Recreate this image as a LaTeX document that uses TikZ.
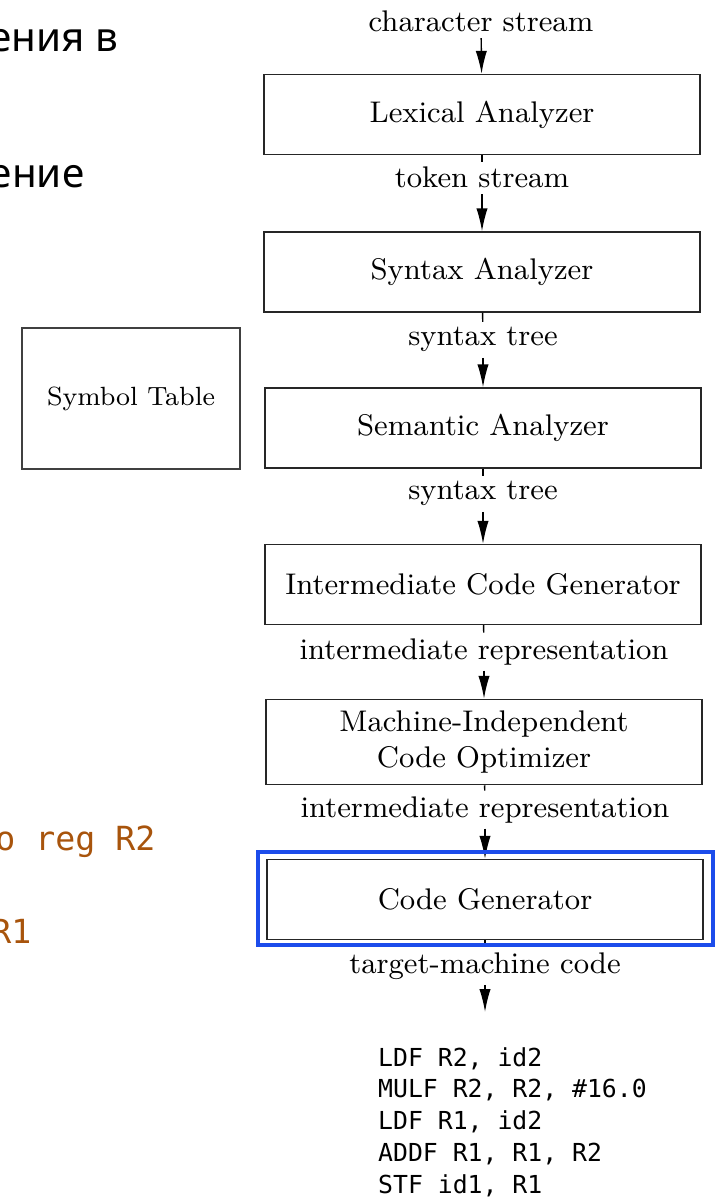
\documentclass[tikz,border=0pt]{standalone}
\usepackage{fontspec}
\newfontfamily\codefont{DejaVu Sans Mono}
\newfontfamily\rufont{Noto Sans}
\usetikzlibrary{arrows.meta}
\definecolor{hlblue}{RGB}{28,76,235}
\definecolor{notebrown}{RGB}{168,84,12}

\begin{document}
\begin{tikzpicture}[phase/.style={draw=black!85, line width=0.4pt, minimum width=4.36cm,
				minimum height=0.8cm, align=center, font=\fontsize{8.5}{10}\selectfont},
			stream/.style={anchor=base, inner sep=0.05cm, font=\fontsize{8.5}{10}\selectfont},
			note/.style={anchor=base east, inner sep=0pt, text=notebrown,
				font=\codefont\fontsize{9.45}{11}\selectfont},
			rutext/.style={anchor=base east, inner sep=0pt, font=\rufont\fontsize{11.5}{14}\selectfont},
			>={Latex[length=6.5pt,width=3.2pt]}, line width=0.4pt]
	\useasboundingbox (0,0) rectangle (7.23,-11.99);
	\clip (0,0) rectangle (7.23,-11.99);
	% compiler phases
	\node[phase] (lex) at (4.82,-1.145) {Lexical Analyzer};
	\node[phase] (syn) at (4.82,-2.72) {Syntax Analyzer};
	\node[phase] (sem) at (4.83,-4.28) {Semantic Analyzer};
	\node[phase] (icg) at (4.83,-5.845) {Intermediate Code Generator};
	\node[phase, minimum height=0.78cm] (mico) at (4.84,-7.42) {Machine-Independent\\Code Optimizer};
	\node[phase] (codegen) at (4.85,-8.995) {Code Generator};
	\node[draw=black!75, minimum width=2.18cm, minimum height=1.41cm,
		font=\fontsize{7.5}{9}\selectfont] (symtab) at (1.31,-3.985) {Symbol Table};
	% what flows between them
	\node[stream] (chars) at (4.81,-0.32) {character stream};
	\node[stream] (tok) at (4.82,-1.88) {token stream};
	\node[stream] (st1) at (4.83,-3.46) {syntax tree};
	\node[stream] (st2) at (4.83,-5.00) {syntax tree};
	\node[stream] (ir1) at (4.84,-6.59) {intermediate representation};
	\node[stream] (ir2) at (4.85,-8.17) {intermediate representation};
	\node[stream] (tmc) at (4.85,-9.73) {target-machine code};
	\coordinate (out) at (4.85,-10.12);
	\draw[->] (chars) -- (lex);
	\draw (lex) -- (tok);
	\draw[->] (tok) -- (syn);
	\draw (syn) -- (st1);
	\draw[->] (st1) -- (sem);
	\draw (sem) -- (st2);
	\draw[->] (st2) -- (icg);
	\draw (icg) -- (ir1);
	\draw[->] (ir1) -- (mico);
	\draw (mico) -- (ir2);
	\draw[->] (ir2) -- (codegen);
	\draw (codegen) -- (tmc);
	\draw[->] (tmc) -- (out);
	% highlight
	\draw[hlblue, line width=1.2pt] ([shift={(-0.08,0.07)}]codegen.north west)
		rectangle ([shift={(0.09,-0.05)}]codegen.south east);
	% generated code (base = last line)
	\node[anchor=base west, inner sep=0pt, align=left,
		font=\codefont\fontsize{7.05}{9.02}\selectfont] (code) at (3.775,-11.93)
		{LDF R2, id2\\MULF R2, R2, \#16.0\\LDF R1, id2\\ADDF R1, R1, R2\\STF id1, R1};
	% cut-off text on the left
	\node[rutext] (ru1) at (1.19,-0.52) {ения в};
	\node[rutext] (ru2) at (0.85,-1.88) {ение};
	\node[note] (reg2) at (1.56,-8.50) {o reg R2};
	\node[note] (reg1) at (0.32,-9.43) {R1};
\end{tikzpicture}
\end{document}
